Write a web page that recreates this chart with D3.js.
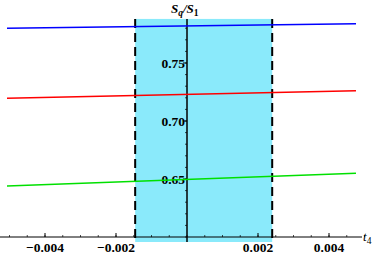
<!DOCTYPE html>
<html>
<head>
<meta charset="utf-8">
<script src="https://cdn.jsdelivr.net/npm/d3@7"></script>
<style>
body { margin: 0; background: #fff; }
text { font-family: "Liberation Serif", "Times New Roman", serif; }
</style>
</head>
<body>
<div id="chart"></div>
<script>
// data
var tRange = [-0.00507, 0.00476];
var blueVals = [0.7799, 0.7839];
var redVals = [0.7196, 0.7261];
var greenVals = [0.6440, 0.6549];
var band = [-0.00146, 0.0024];
var bandY = [0.5957, 0.788];
var xTicks = [-0.004, -0.002, 0.002, 0.004];
var xTickLabels = ["\u22120.004", "\u22120.002", "0.002", "0.004"];
var yTicks = [0.65, 0.70, 0.75];
var yTickLabels = ["0.65", "0.70", "0.75"];

var width = 374, height = 255;
var svg = d3.select("#chart").append("svg")
  .attr("width", width).attr("height", height);

// 0.002 per 71px, origin at x=187; 0.05 per 58px, 0.60 at y=237
var x = d3.scaleLinear().domain([0, 0.002]).range([187, 258]);
var y = d3.scaleLinear().domain([0.60, 0.65]).range([237, 179]);

// shaded band
svg.append("rect")
  .attr("x", x(band[0])).attr("y", y(bandY[1]))
  .attr("width", x(band[1]) - x(band[0]))
  .attr("height", y(bandY[0]) - y(bandY[1]))
  .attr("fill", "#8aeafb");

// x axis
svg.append("line").attr("x1", 0).attr("x2", 362)
  .attr("y1", y(0.60)).attr("y2", y(0.60))
  .attr("stroke", "#000").attr("stroke-width", 1);
var xMinor = d3.range(-0.005, 0.00501, 0.0005);
svg.selectAll(".xminor").data(xMinor).enter().append("line")
  .attr("x1", function(d){ return x(d); }).attr("x2", function(d){ return x(d); })
  .attr("y1", y(0.60)).attr("y2", y(0.60) - 2)
  .attr("stroke", "#000").attr("stroke-width", 0.7);
svg.selectAll(".xmajor").data(xTicks).enter().append("line")
  .attr("x1", function(d){ return x(d); }).attr("x2", function(d){ return x(d); })
  .attr("y1", y(0.60)).attr("y2", y(0.60) - 4)
  .attr("stroke", "#000").attr("stroke-width", 1);
svg.selectAll(".xlab").data(xTicks).enter().append("text")
  .attr("x", function(d){ return x(d); }).attr("y", y(0.60) + 15)
  .attr("text-anchor", "middle")
  .style("font-size", "13.5px").style("font-weight", "bold")
  .text(function(d, i){ return xTickLabels[i]; });
var tl = svg.append("text").attr("x", 363).attr("y", 241)
  .style("font-size", "13px").style("font-style", "italic");
tl.append("tspan").text("t");
tl.append("tspan").attr("dy", 3).style("font-size", "9.5px").style("font-style", "normal").text("4");

// y axis
svg.append("line").attr("x1", x(0)).attr("x2", x(0))
  .attr("y1", y(bandY[1])).attr("y2", y(bandY[0]))
  .attr("stroke", "#000").attr("stroke-width", 1.5);
var yMinor = d3.range(0.60, 0.7801, 0.01);
svg.selectAll(".yminor").data(yMinor).enter().append("line")
  .attr("x1", x(0)).attr("x2", x(0) - 2)
  .attr("y1", function(d){ return y(d); }).attr("y2", function(d){ return y(d); })
  .attr("stroke", "#000").attr("stroke-width", 0.7);
svg.selectAll(".ymajor").data(yTicks).enter().append("line")
  .attr("x1", x(0)).attr("x2", x(0) - 4)
  .attr("y1", function(d){ return y(d); }).attr("y2", function(d){ return y(d); })
  .attr("stroke", "#000").attr("stroke-width", 1);
svg.selectAll(".ylab").data(yTicks).enter().append("text")
  .attr("x", x(0) - 2).attr("y", function(d){ return y(d) + 5; })
  .attr("text-anchor", "end")
  .style("font-size", "13.5px").style("font-weight", "bold")
  .text(function(d, i){ return yTickLabels[i]; });
var yl = svg.append("text").attr("x", 171).attr("y", 13)
  .style("font-size", "13px").style("font-style", "italic").style("font-weight", "bold");
yl.append("tspan").text("S");
yl.append("tspan").attr("dy", 3).style("font-size", "9.5px").text("q");
yl.append("tspan").attr("dy", -3).text("/S");
yl.append("tspan").attr("dy", 3).style("font-size", "9.5px").style("font-style", "normal").text("1");

// dashed band edges
svg.selectAll(".edge").data(band).enter().append("line")
  .attr("x1", function(d){ return x(d); }).attr("x2", function(d){ return x(d); })
  .attr("y1", y(bandY[1])).attr("y2", y(bandY[0]))
  .attr("stroke", "#000").attr("stroke-width", 2)
  .attr("stroke-dasharray", "9,5");

// series lines
var line = d3.line()
  .x(function(d, i){ return x(tRange[i]); })
  .y(function(d){ return y(d); });
[[blueVals, "#0000ff"], [redVals, "#ff0000"], [greenVals, "#00e000"]].forEach(function(s){
  svg.append("path").datum(s[0])
    .attr("d", line).attr("fill", "none")
    .attr("stroke", s[1]).attr("stroke-width", 1.6);
});
</script>
</body>
</html>
